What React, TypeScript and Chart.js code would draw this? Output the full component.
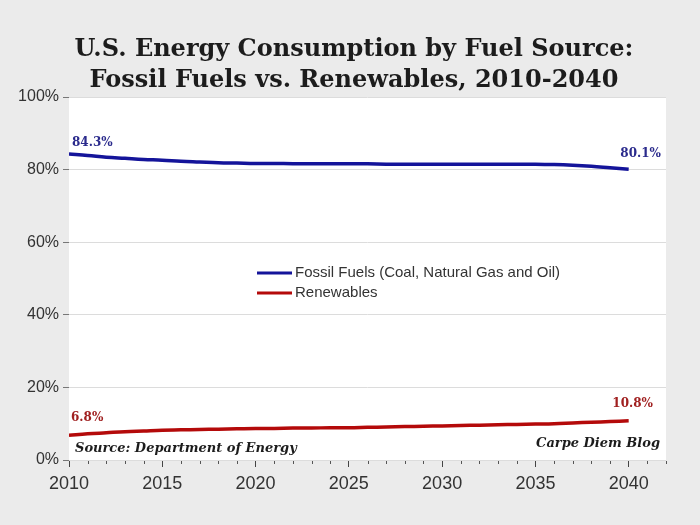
import React, { useEffect, useRef } from "react";
import { Chart, registerables } from "chart.js";

Chart.register(...registerables);

const years = [2010, 2011, 2012, 2013, 2014, 2015, 2016, 2017, 2018, 2019, 2020, 2021, 2022, 2023, 2024, 2025, 2026, 2027, 2028, 2029, 2030, 2031, 2032, 2033, 2034, 2035, 2036, 2037, 2038, 2039, 2040];
const fossil = [84.3, 83.9, 83.4, 83.1, 82.8, 82.6, 82.3, 82.1, 81.9, 81.8, 81.7, 81.7, 81.6, 81.6, 81.6, 81.6, 81.6, 81.5, 81.5, 81.5, 81.5, 81.5, 81.5, 81.5, 81.5, 81.5, 81.4, 81.2, 80.9, 80.5, 80.1];
const renewables = [6.8, 7.2, 7.5, 7.8, 8.0, 8.2, 8.3, 8.4, 8.5, 8.6, 8.7, 8.7, 8.8, 8.8, 8.9, 8.9, 9.0, 9.1, 9.2, 9.3, 9.4, 9.5, 9.6, 9.7, 9.8, 9.9, 10.0, 10.2, 10.4, 10.6, 10.8];
const yTicks = [0, 20, 40, 60, 80, 100];
const titleLines = ["U.S. Energy Consumption by Fuel Source:", "Fossil Fuels vs. Renewables, 2010-2040"];
const seriesNames = ["Fossil Fuels (Coal, Natural Gas and Oil)", "Renewables"];
const seriesColors = ["#14149a", "#b40a0a"];
const sourceText = "Source: Department of Energy";
const blogText = "Carpe Diem Blog";

const decor = {
  id: "decor",
  beforeDraw(chart: any) {
    const { ctx, chartArea } = chart;
    ctx.save();
    ctx.fillStyle = "#ebebeb";
    ctx.fillRect(0, 0, chart.width, chart.height);
    ctx.fillStyle = "#ffffff";
    ctx.fillRect(chartArea.left, chartArea.top, chartArea.right - chartArea.left, chartArea.bottom - chartArea.top);
    ctx.restore();
  },
  afterDraw(chart: any) {
    const { ctx, chartArea, scales } = chart;
    const x = scales.x;
    const y = scales.y;
    ctx.save();
    // title
    ctx.fillStyle = "#1c1c1c";
    ctx.font = "bold 24px 'DejaVu Serif', serif";
    ctx.textAlign = "center";
    ctx.textBaseline = "middle";
    ctx.fillText(titleLines[0], 354, 50);
    ctx.fillText(titleLines[1], 354, 81);
    // minor x ticks
    ctx.strokeStyle = "#555";
    ctx.lineWidth = 1;
    for (let yr = 2010; yr <= 2042; yr++) {
      if (yr % 5 === 0) continue;
      const px = Math.round(x.getPixelForValue(yr)) + 0.5;
      ctx.beginPath();
      ctx.moveTo(px, chartArea.bottom + 1);
      ctx.lineTo(px, chartArea.bottom + 4);
      ctx.stroke();
    }
    // legend
    ctx.font = "15px 'Liberation Sans', Arial, sans-serif";
    ctx.textAlign = "left";
    seriesNames.forEach((n, i) => {
      const ly = 273 + i * 20;
      ctx.strokeStyle = seriesColors[i];
      ctx.lineWidth = 3;
      ctx.beginPath();
      ctx.moveTo(257, ly);
      ctx.lineTo(292, ly);
      ctx.stroke();
      ctx.fillStyle = "#333";
      ctx.fillText(n, 295, ly);
    });
    // data labels
    ctx.font = "bold 12px 'DejaVu Serif', serif";
    ctx.fillStyle = "#2a2a8c";
    const last = years.length - 1;
    ctx.textAlign = "left";
    ctx.fillText(fossil[0].toFixed(1) + "%", x.getPixelForValue(years[0]) + 3, y.getPixelForValue(fossil[0]) - 11);
    ctx.textAlign = "center";
    ctx.fillText(fossil[last].toFixed(1) + "%", x.getPixelForValue(years[last]) + 12, y.getPixelForValue(fossil[last]) - 15);
    ctx.fillStyle = "#a02020";
    ctx.textAlign = "left";
    ctx.fillText(renewables[0].toFixed(1) + "%", x.getPixelForValue(years[0]) + 2, y.getPixelForValue(renewables[0]) - 17);
    ctx.textAlign = "center";
    ctx.fillText(renewables[last].toFixed(1) + "%", x.getPixelForValue(years[last]) + 4, y.getPixelForValue(renewables[last]) - 17);
    // source
    ctx.fillStyle = "#1c1c1c";
    ctx.font = "italic bold 13px 'DejaVu Serif', serif";
    ctx.textAlign = "left";
    ctx.fillText(sourceText, 75, 449);
    ctx.textAlign = "right";
    ctx.fillText(blogText, 660, 444);
    ctx.restore();
  },
};

export default function App() {
  const ref = useRef<HTMLCanvasElement>(null);
  useEffect(() => {
    document.body.style.margin = "0";
    const chart = new Chart(ref.current!, {
      type: "line",
      data: {
        labels: years,
        datasets: [
          {
            label: seriesNames[0],
            data: years.map((yr, i) => ({ x: yr, y: fossil[i] })),
            borderColor: seriesColors[0],
            borderWidth: 3.5,
            pointRadius: 0,
            tension: 0.4,
          },
          {
            label: seriesNames[1],
            data: years.map((yr, i) => ({ x: yr, y: renewables[i] })),
            borderColor: seriesColors[1],
            borderWidth: 3.5,
            pointRadius: 0,
            tension: 0.4,
          },
        ],
      },
      options: {
        animation: false,
        responsive: false,
        layout: { padding: { top: 97, right: 34, left: 0, bottom: 0 } },
        plugins: { legend: { display: false }, tooltip: { enabled: false } },
        scales: {
          x: {
            type: "linear",
            min: 2010,
            max: 2042,
            afterFit: (s: any) => { s.height = 65; },
            afterBuildTicks: (s: any) => { s.ticks = [2010, 2015, 2020, 2025, 2030, 2035, 2040].map((v) => ({ value: v })); },
            ticks: {
              color: "#333",
              font: { size: 18, family: "'Liberation Sans', Arial, sans-serif" },
              padding: 6,
              maxRotation: 0,
              callback: (v: any) => String(v),
            },
            grid: { drawOnChartArea: false, tickLength: 7, tickColor: "#444", color: "#444" },
            border: { display: false },
          },
          y: {
            min: 0,
            max: 100,
            afterFit: (s: any) => { s.width = 69; },
            afterBuildTicks: (s: any) => { s.ticks = yTicks.map((v) => ({ value: v })); },
            ticks: {
              color: "#333",
              font: { size: 16, family: "'Liberation Sans', Arial, sans-serif" },
              padding: 4,
              callback: (v: any) => v + "%",
            },
            grid: { color: "#dcdcdc", tickLength: 6, tickColor: "#777" },
            border: { display: false },
          },
        },
      },
      plugins: [decor],
    } as any);
    return () => chart.destroy();
  }, []);
  return (
    <div style={{ position: "fixed", left: 0, top: 0, width: 700, height: 525 }}>
      <canvas ref={ref} width={700} height={525} />
    </div>
  );
}
